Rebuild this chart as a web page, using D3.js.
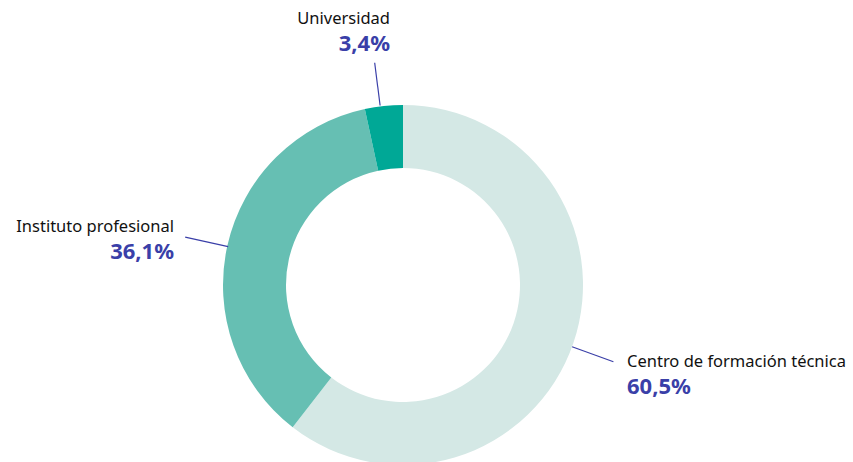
<!DOCTYPE html>
<html>
<head>
	<meta charset="utf-8">
	<title>Donut</title>
	<script src="https://d3js.org/d3.v7.min.js"></script>
	<style>
		body { margin: 0; background: #fff; }
		text { font-family: "Noto Sans", sans-serif; }
	</style>
</head>
<body>
<script>
	var categories = ['Centro de formación técnica', 'Instituto profesional', 'Universidad'];
	var values = [60.5, 36.1, 3.4];
	var valueLabels = ['60,5%', '36,1%', '3,4%'];
	var colors = ['#d4e8e5', '#66bfb3', '#00a896'];

	var width = 853, height = 462;
	var cx = 403, cy = 285;
	var outerR = 180, innerR = 117;

	var svg = d3.select('body').append('svg')
		.attr('width', width)
		.attr('height', height);

	var g = svg.append('g').attr('transform', 'translate(' + cx + ',' + cy + ')');

	var pie = d3.pie().sort(null).value(function(d) { return d; });
	var arcs = pie(values);
	var arc = d3.arc().innerRadius(innerR).outerRadius(outerR);

	g.selectAll('path')
		.data(arcs)
		.enter()
		.append('path')
		.attr('d', arc)
		.attr('fill', function(d, i) { return colors[i]; });

	// label placement per slice: leader radii, text anchor & position
	var labelSpec = [
		{ lineFrom: 180, lineTo: 224, angleShift: 0.02, tx: 627, ty: 367, anchor: 'start' },
		{ lineFrom: 179, lineTo: 223, angleShift: -0.007, tx: 174, ty: 232, anchor: 'end' },
		{ lineFrom: 181, lineTo: 224, angleShift: -0.02, tx: 390, ty: 24, anchor: 'end' }
	];

	arcs.forEach(function(d, i) {
		var s = labelSpec[i];
		var a = (d.startAngle + d.endAngle) / 2 + s.angleShift;
		var p1 = [Math.sin(a) * s.lineFrom, -Math.cos(a) * s.lineFrom];
		var p2 = [Math.sin(a) * s.lineTo, -Math.cos(a) * s.lineTo];
		g.append('line')
			.attr('x1', p1[0]).attr('y1', p1[1])
			.attr('x2', p2[0]).attr('y2', p2[1])
			.attr('stroke', '#3a3fa8')
			.attr('stroke-width', 1.2);

		svg.append('text')
			.attr('x', s.tx).attr('y', s.ty)
			.attr('text-anchor', s.anchor)
			.attr('font-size', 16.5)
			.attr('fill', '#111')
			.text(categories[i]);
		svg.append('text')
			.attr('x', s.tx).attr('y', s.ty + 27)
			.attr('text-anchor', s.anchor)
			.attr('font-size', 22)
			.attr('font-weight', 'bold')
			.attr('fill', '#3a3fa8')
			.text(valueLabels[i]);
	});
</script>
</body>
</html>
